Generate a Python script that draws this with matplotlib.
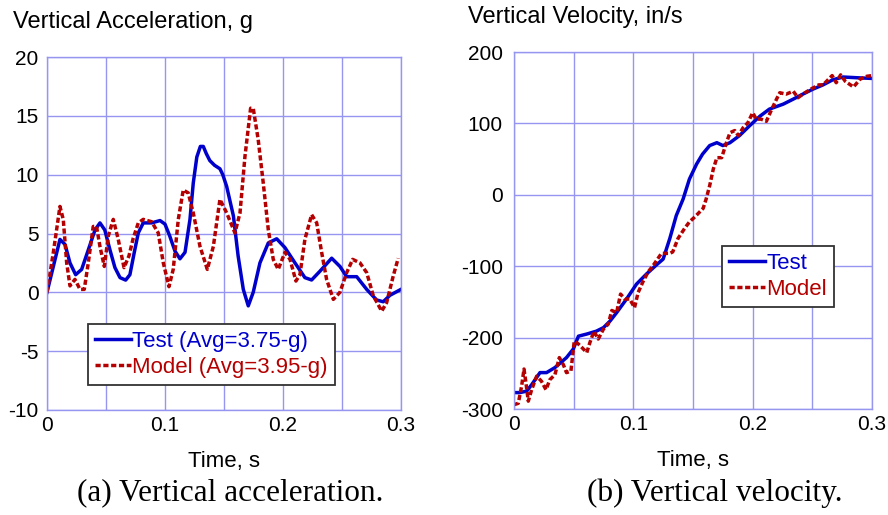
import numpy as np
import matplotlib
matplotlib.use('Agg')
import matplotlib.pyplot as plt

# Acceleration data (g)
acc_test_t = [0, 0.0054, 0.011, 0.0153, 0.0195, 0.0243, 0.0294, 0.035, 0.0407, 0.0449,
              0.049, 0.0534, 0.0576, 0.0619, 0.0667, 0.0703, 0.074, 0.0774, 0.0816, 0.0887,
              0.0958, 0.100, 0.104, 0.1085, 0.1127, 0.117, 0.1212, 0.124, 0.127, 0.130,
              0.1325, 0.135, 0.138, 0.142, 0.1466, 0.149, 0.1523, 0.158, 0.162, 0.1664,
              0.1706, 0.1748, 0.1805, 0.1876, 0.1947, 0.2017, 0.2102, 0.2186, 0.2243, 0.2314,
              0.2413, 0.2483, 0.254, 0.2625, 0.271, 0.2794, 0.285, 0.2907, 0.3]
acc_test_v = [0, 2.2, 4.5, 4.07, 2.5, 1.5, 1.95, 3.6, 5.3, 5.9,
              5.3, 3.6, 2.1, 1.25, 1.04, 1.5, 3.4, 5.05, 5.9, 5.9,
              6.1, 5.8, 4.8, 3.5, 2.85, 3.4, 6.2, 9.3, 11.5, 12.4,
              12.4, 11.8, 11.2, 10.8, 10.5, 10.0, 9.0, 6.5, 3.1, 0.25,
              -1.15, 0, 2.5, 4.2, 4.55, 3.8, 2.5, 1.25, 1.05, 1.8,
              2.9, 2.2, 1.33, 1.33, 0.25, -0.65, -0.8, -0.25, 0.25]

acc_model_t = [0, 0.0054, 0.011, 0.0138, 0.0167, 0.0195, 0.0237, 0.028, 0.0316, 0.035,
               0.0392, 0.042, 0.0449, 0.0486, 0.052, 0.0562, 0.0604, 0.0653, 0.0695, 0.0731,
               0.0774, 0.0816, 0.0887, 0.0943, 0.0986, 0.1034, 0.107, 0.1113, 0.1155, 0.1197,
               0.124, 0.1297, 0.1359, 0.141, 0.1466, 0.1523, 0.1593, 0.1636, 0.1678, 0.1726,
               0.1748, 0.179, 0.1833, 0.1876, 0.1918, 0.196, 0.2017, 0.206, 0.211, 0.2144,
               0.2186, 0.2243, 0.2286, 0.2328, 0.237, 0.2427, 0.2483, 0.254, 0.2591, 0.2653,
               0.271, 0.2766, 0.2837, 0.2879, 0.2935, 0.2977]
acc_model_v = [0, 3.4, 7.3, 6.2, 2.5, 0.55, 1.1, 0.25, 0.25, 2.5,
               5.6, 5.6, 3.9, 2.2, 4.8, 6.2, 4.5, 2.1, 3.1, 4.6,
               5.9, 6.2, 6.0, 5.05, 2.5, 0.48, 1.95, 6.2, 8.7, 8.45,
               6.75, 3.9, 1.95, 3.9, 7.9, 6.75, 5.05, 6.75, 11.55, 15.65,
               15.65, 13.0, 9.3, 5.3, 2.8, 1.95, 3.4, 2.8, 0.96, 1.5,
               4.5, 6.6, 5.9, 3.4, 1.1, -0.6, 0, 1.67, 2.8, 2.5,
               1.67, -0.3, -1.6, -0.87, 1.4, 2.9]

# Velocity data (in/s)
vel_test_t = [0, 0.005, 0.0106, 0.0148, 0.0218, 0.0273, 0.0343, 0.044, 0.0497, 0.054, 0.061,
              0.069, 0.075, 0.0804, 0.086, 0.0943, 0.1027, 0.111, 0.1195, 0.125, 0.1306, 0.136,
              0.1417, 0.147, 0.153, 0.158, 0.164, 0.170, 0.175, 0.181, 0.189, 0.1976, 0.206,
              0.214, 0.2256, 0.234, 0.242, 0.2505, 0.259, 0.267, 0.2757, 0.287, 0.3]
vel_test_v = [-277, -277, -275, -266, -249, -249, -242, -228, -216, -198, -195,
              -191, -186, -177, -165, -146, -125, -111, -98, -90, -61, -29,
              -6, 22, 43, 57, 69, 73, 69, 73, 83, 97, 110,
              120, 127, 134, 141, 148, 154, 161, 165, 164, 163]

vel_model_t = [0, 0.0036, 0.0064, 0.0084, 0.010, 0.012, 0.0148, 0.019, 0.023, 0.0268, 0.030,
               0.0343, 0.038, 0.0414, 0.044, 0.0477, 0.0505, 0.054, 0.057, 0.061, 0.0636, 0.067,
               0.0706, 0.075, 0.079, 0.082, 0.086, 0.0893, 0.093, 0.097, 0.101, 0.104, 0.108,
               0.1124, 0.1166, 0.1236, 0.1306, 0.133, 0.1375, 0.143, 0.147, 0.1515, 0.1585, 0.161,
               0.164, 0.167, 0.170, 0.174, 0.178, 0.181, 0.185, 0.188, 0.192, 0.196, 0.200,
               0.203, 0.207, 0.2115, 0.216, 0.220, 0.2227, 0.228, 0.234, 0.238, 0.242, 0.2487,
               0.2554, 0.259, 0.2666, 0.270, 0.2737, 0.2776, 0.2845, 0.290, 0.2956, 0.3]
vel_model_v = [-294, -292, -268, -244, -263, -289, -273, -254, -261, -273, -259,
               -252, -228, -238, -249, -247, -205, -209, -214, -221, -207, -191,
               -202, -188, -181, -162, -165, -139, -146, -146, -158, -137, -122,
               -108, -99, -82, -82, -80, -61, -47, -38, -31, -19, -6,
               13, 36, 52, 52, 73, 87, 90, 83, 94, 101, 115,
               106, 106, 103, 120, 134, 143, 141, 145, 136, 141, 148,
               154, 154, 167, 157, 168, 159, 151, 162, 166, 167]

blue = '#0000cd'
red = '#b40000'
grid_c = '#9696f0'
sans = 'Liberation Sans'
lw = 2.5
dash = (0, (1.5, 0.75))

fig = plt.figure(figsize=(8.88, 5.15), dpi=100)
ax1 = fig.add_axes([0.0529, 0.2039, 0.3986, 0.6854])
ax2 = fig.add_axes([0.5788, 0.2058, 0.4032, 0.6932])

for ax in (ax1, ax2):
    ax.grid(True, color=grid_c, linewidth=1.0)
    ax.set_axisbelow(True)
    for s in ax.spines.values():
        s.set_color(grid_c)
        s.set_linewidth(1.0)
    ax.tick_params(length=0, labelsize=15, pad=4)
    ax.set_xlim(0, 0.3)
    ax.set_xticks(np.arange(0, 0.31, 0.05))
    ax.set_xticklabels(['0', '', '0.1', '', '0.2', '', '0.3'], fontfamily=sans)
    ax.set_xlabel('Time, s', fontsize=16, fontfamily=sans, labelpad=12)

# (a) acceleration
ax1.plot(acc_test_t, acc_test_v, color=blue, linewidth=lw, label='Test (Avg=3.75-g)')
ax1.plot(acc_model_t, acc_model_v, color=red, linewidth=lw, linestyle=dash,
         label='Model (Avg=3.95-g)')
ax1.set_ylim(-10, 20)
ax1.set_yticks(range(-10, 21, 5))
ax1.set_yticklabels([str(v) for v in range(-10, 21, 5)], fontfamily=sans)
ax1.tick_params(axis='y', pad=6)

# (b) velocity
ax2.plot(vel_test_t, vel_test_v, color=blue, linewidth=lw, label='Test')
ax2.plot(vel_model_t, vel_model_v, color=red, linewidth=lw, linestyle=dash,
         label='Model')
ax2.set_ylim(-300, 200)
ax2.set_yticks(range(-300, 201, 100))
ax2.set_yticklabels([str(v) for v in range(-300, 201, 100)], fontfamily=sans)
ax2.tick_params(axis='y', pad=8)

for ax, anchor in ((ax1, (0.116, 0.071)), (ax2, (0.581, 0.286))):
    leg = ax.legend(loc='lower left', bbox_to_anchor=anchor,
                    prop={'family': sans, 'size': 16}, fancybox=False, framealpha=1,
                    edgecolor='#333333', handlelength=1.65, handletextpad=0.05,
                    borderpad=0.3, labelspacing=0.25, borderaxespad=0)
    leg.get_frame().set_linewidth(1.3)
    for txt, c in zip(leg.get_texts(), [blue, red]):
        txt.set_color(c)

fig.text(13 / 888, 1 - 22 / 515, 'Vertical Acceleration, g', fontsize=17,
         fontfamily=sans, va='center', ha='left')
fig.text(468 / 888, 1 - 17 / 515, 'Vertical Velocity, in/s', fontsize=17,
         fontfamily=sans, va='center', ha='left')

fig.text(230 / 888, 1 - 493 / 515, '(a) Vertical acceleration.', fontsize=22.5,
         fontfamily='Liberation Serif', ha='center', va='center')
fig.text(715 / 888, 1 - 493 / 515, '(b) Vertical velocity.', fontsize=22.5,
         fontfamily='Liberation Serif', ha='center', va='center')

fig.savefig('out.png', dpi=100)
